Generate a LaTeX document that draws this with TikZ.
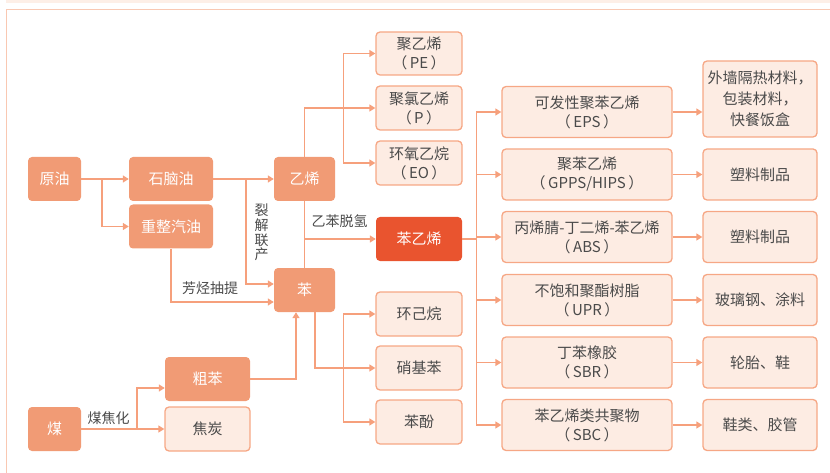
\documentclass[tikz,border=0pt]{standalone}
\usepackage{fontspec}
\setmainfont{Noto Sans CJK SC}
\usetikzlibrary{arrows.meta,calc}
\definecolor{fillc}{HTML}{F19B75}
\definecolor{lightc}{HTML}{FDECE3}
\definecolor{borderc}{HTML}{F6A785}
\definecolor{redc}{HTML}{E9542F}
\definecolor{linec}{HTML}{F6A07C}
\definecolor{txtc}{HTML}{4A4A4A}
\definecolor{framec}{HTML}{F9C8B2}
\definecolor{bandc}{HTML}{FDEFE7}
\newcommand{\parenlbl}[1]{（\hspace{2.5pt}#1\hspace{2.5pt}）}
\begin{document}
\begin{tikzpicture}[x=1pt,y=-1pt,
 base/.style={rounded corners=4pt, inner sep=0pt, align=center, font=\fontsize{15}{19}\selectfont},
 solid box/.style={base, fill=fillc, text=white},
 light box/.style={base, fill=lightc, draw=borderc, line width=1.3pt, text=txtc},
 red box/.style={base, fill=redc, text=white},
 conn/.style={draw=linec, line width=1.4pt},
 arr/.style={conn, -{Triangle[length=6pt,width=7pt]}},
 lbl/.style={text=txtc, font=\fontsize{14}{14.7}\selectfont, inner sep=0pt, align=center},
 c1/.style={minimum width=170pt, minimum height=51pt},
 c2/.style={minimum width=114pt, minimum height=51pt}
]
\useasboundingbox (0,0) rectangle (830,473);
\fill[bandc] (6,0) rectangle (830,3.5);
\draw[framec, line width=1.5pt] (830,9.5) -- (6.5,9.5) -- (6.5,473);

% left part
\node[solid box, minimum width=53pt, minimum height=44pt] (crude) at (54.5,179) {原油};
\node[solid box, minimum width=84pt, minimum height=44pt] (naphtha) at (171,179) {石脑油};
\node[solid box, minimum width=84pt, minimum height=44pt] (reform) at (171,226.5) {重整汽油};
\node[solid box, minimum width=61pt, minimum height=44pt] (ethylene) at (304.5,179) {乙烯};
\node[solid box, minimum width=61pt, minimum height=44pt] (benzene) at (304.5,290) {苯};
\node[solid box, minimum width=85pt, minimum height=44pt] (crudebz) at (207.5,379) {粗苯};
\node[light box, minimum width=85pt, minimum height=44pt] (coke) at (207.5,429) {焦炭};
\node[solid box, minimum width=53pt, minimum height=44pt] (coal) at (54.5,429) {煤};

% middle column
\node[light box, minimum width=86pt, minimum height=43pt] (pe) at (419,53.5) {聚乙烯\\\parenlbl{PE}};
\node[light box, minimum width=86pt, minimum height=44pt] (pvc) at (419,108) {聚氯乙烯\\\parenlbl{P}};
\node[light box, minimum width=86pt, minimum height=44pt] (eo) at (419,163) {环氧乙烷\\\parenlbl{EO}};
\node[red box, minimum width=86pt, minimum height=44pt] (styrene) at (419,239) {苯乙烯};
\node[light box, minimum width=86pt, minimum height=44pt] (cyclo) at (419,314) {环己烷};
\node[light box, minimum width=86pt, minimum height=44pt] (nitro) at (419,368) {硝基苯};
\node[light box, minimum width=86pt, minimum height=44pt] (phenol) at (419,422) {苯酚};

% styrene products
\node[light box, c1] (eps) at (587,112) {可发性聚苯乙烯\\\parenlbl{EPS}};
\node[light box, c1] (gpps) at (587,174.5) {聚苯乙烯\\\parenlbl{GPPS/HIPS}};
\node[light box, c1] (abs) at (587,237) {丙烯腈-丁二烯-苯乙烯\\\parenlbl{ABS}};
\node[light box, c1] (upr) at (587,300) {不饱和聚酯树脂\\\parenlbl{UPR}};
\node[light box, c1] (sbr) at (587,362.5) {丁苯橡胶\\\parenlbl{SBR}};
\node[light box, c1] (sbc) at (587,425) {苯乙烯类共聚物\\\parenlbl{SBC}};

% uses
\node[light box, minimum width=114pt, minimum height=76pt, font=\fontsize{15}{21}\selectfont] (u1) at (760,99) {外墙隔热材料，\\包装材料，\\快餐饭盒};
\node[light box, c2] (u2) at (760,174.5) {塑料制品};
\node[light box, c2] (u3) at (760,237) {塑料制品};
\node[light box, c2] (u4) at (760,300) {玻璃钢、涂料};
\node[light box, c2] (u5) at (760,362.5) {轮胎、鞋};
\node[light box, c2] (u6) at (760,425) {鞋类、胶管};

% labels
\node[lbl] (l1) at (261.5,232.5) {裂\\解\\联\\产};
\node[lbl] (l2) at (339.5,221.5) {乙苯脱氢};
\node[lbl] (l3) at (210,288.5) {芳烃抽提};
\node[lbl] (l4) at (108.5,418.5) {煤焦化};

% connectors left
\draw[arr] (crude) -- (naphtha);
\coordinate (j1) at (102,179);
\draw[arr] (j1) |- (reform.west);
\draw[arr] (naphtha) -- (ethylene);
\coordinate (j2) at (246,179);
\draw[arr] (j2) |- ([yshift=6pt]benzene.west);
\draw[arr] (reform.south) |- ([yshift=-12pt]benzene.west);
\draw[conn] (ethylene.south) -- (benzene.north);
\draw[arr] (ethylene.south |- styrene.west) -- (styrene.west);
\draw[arr] (ethylene.north) |- (pvc.west);
\draw[conn] ($(pe.west)+(-32,0)$) -- ($(eo.west)+(-32,0)$);
\draw[arr] ($(pe.west)+(-32,0)$) -- (pe.west);
\draw[arr] ($(eo.west)+(-32,0)$) -- (eo.west);
\draw[arr] ([xshift=10.5pt]benzene.south) |- (nitro.west);
\draw[conn] ($(cyclo.west)+(-32,0)$) -- ($(phenol.west)+(-32,0)$);
\draw[arr] ($(cyclo.west)+(-32,0)$) -- (cyclo.west);
\draw[arr] ($(phenol.west)+(-32,0)$) -- (phenol.west);
\draw[arr] (crudebz.east) -| ([xshift=-8.5pt]benzene.south);
\draw[arr] (coal) -- (coke);
\coordinate (j4) at (137,429);
\draw[arr] (j4) |- ([yshift=-9pt]crudebz.west);

% styrene bus
\coordinate (bt) at ($(eps.west)+(-25,0)$);
\coordinate (bb) at ($(sbc.west)+(-25,0)$);
\draw[conn] (bt) -- (bb);
\draw[conn] (styrene.east) -- (styrene.east -| bt);
\foreach \n in {eps,gpps,abs,upr,sbr,sbc}{
  \draw[arr] ($(\n.west)+(-25,0)$) -- (\n.west);
}
\draw[arr] (eps.east) -- (eps.east -| u1.west);
\draw[arr] (gpps) -- (u2);
\draw[arr] (abs) -- (u3);
\draw[arr] (upr) -- (u4);
\draw[arr] (sbr) -- (u5);
\draw[arr] (sbc) -- (u6);
\end{tikzpicture}
\end{document}
